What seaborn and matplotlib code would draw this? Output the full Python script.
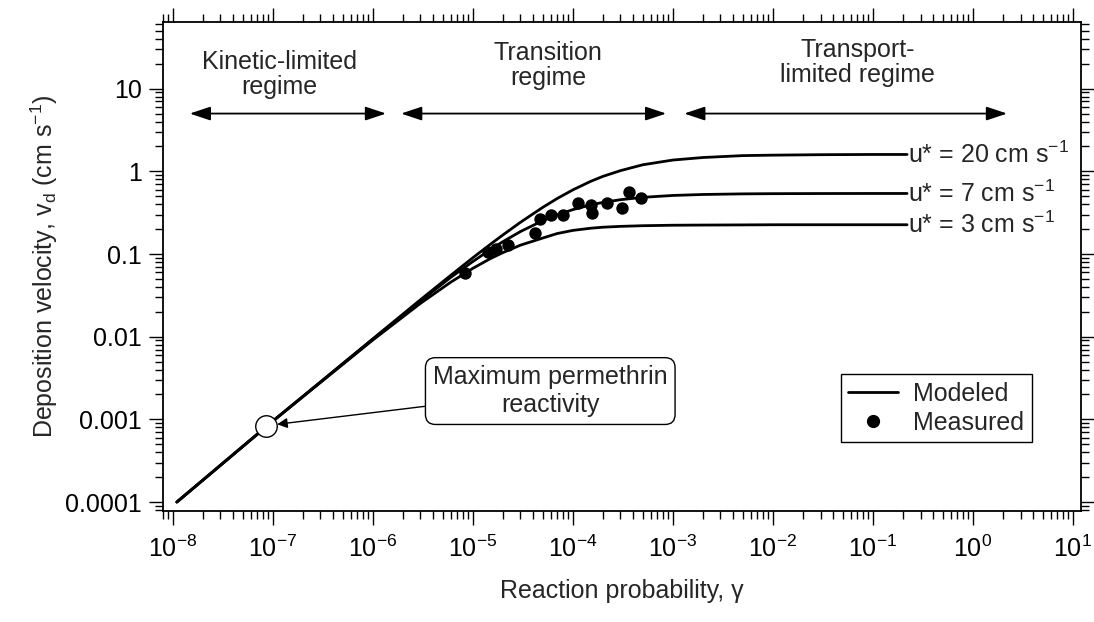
import matplotlib
matplotlib.use("Agg")
import matplotlib.pyplot as plt
import matplotlib.ticker as mticker
from matplotlib.lines import Line2D
import pandas as pd
import seaborn as sns

# modeled curves
gamma_model = [1.1e-8, 1e-7, 1e-6, 3e-6, 6e-6, 1e-5, 1.5e-5, 2e-5, 3e-5, 5e-5, 7e-5,
               1e-4, 1.5e-4, 2e-4, 3e-4, 5e-4, 1e-3, 2e-3, 5e-3, 1e-2, 3e-2, 0.1, 0.22]
vd_u20 = [1.0e-4, 9.5e-4, 9.4e-3, 0.028, 0.055, 0.090, 0.131, 0.170, 0.242, 0.366, 0.470,
          0.596, 0.754, 0.869, 1.02, 1.20, 1.37, 1.47, 1.55, 1.57, 1.59, 1.60, 1.60]
vd_u7 = [1.0e-4, 9.5e-4, 9.3e-3, 0.027, 0.052, 0.081, 0.113, 0.141, 0.187, 0.253, 0.298,
         0.344, 0.392, 0.421, 0.454, 0.485, 0.511, 0.525, 0.534, 0.537, 0.539, 0.540, 0.540]
vd_u3 = [1.0e-4, 9.5e-4, 9.1e-3, 0.0253, 0.0455, 0.067, 0.088, 0.104, 0.128, 0.156, 0.177,
         0.193, 0.205, 0.211, 0.216, 0.220, 0.223, 0.224, 0.225, 0.226, 0.226, 0.226, 0.226]
ustar_labels = ["u* = 20 cm s$^{-1}$", "u* = 7 cm s$^{-1}$", "u* = 3 cm s$^{-1}$"]

# measured points
gamma_meas = [8.4e-6, 1.42e-5, 1.71e-5, 2.25e-5, 4.2e-5, 4.66e-5, 6.07e-5, 8.0e-5,
              1.12e-4, 1.51e-4, 1.56e-4, 2.2e-4, 3.11e-4, 3.66e-4, 4.82e-4]
vd_meas = [0.059, 0.107, 0.116, 0.130, 0.180, 0.268, 0.299, 0.299,
           0.41, 0.39, 0.314, 0.41, 0.361, 0.561, 0.477]

# maximum permethrin reactivity
max_gamma = [8.6e-8]
max_vd = [8.4e-4]

regime_labels = ["Kinetic-limited\nregime", "Transition\nregime", "Transport-\nlimited regime"]
regime_spans = [(1.48e-8, 1.36e-6), (1.92e-6, 8.6e-4), (1.3e-3, 2.2)]
regime_text_pos = [(1.16e-7, 15.0), (5.7e-5, 19.0), (7.1e-2, 21.0)]

FS = 18

sns.set_style("ticks")
plt.rcParams["font.family"] = ["Liberation Sans", "DejaVu Sans"]
plt.rcParams["mathtext.fontset"] = "custom"
plt.rcParams["mathtext.rm"] = "Liberation Sans"
plt.rcParams["mathtext.it"] = "Liberation Sans:italic"
plt.rcParams["mathtext.bf"] = "Liberation Sans:bold"

model_df = pd.concat([
    pd.DataFrame({"gamma": gamma_model, "vd": vals, "ustar": lab})
    for vals, lab in zip([vd_u20, vd_u7, vd_u3], ustar_labels)
])

fig = plt.figure(figsize=(10.94, 6.22), dpi=100)
ax = fig.add_axes([0.149, 0.1785, 0.8389, 0.7861])
ax.set_xscale("log")
ax.set_yscale("log")

sns.lineplot(data=model_df, x="gamma", y="vd", units="ustar", estimator=None,
             color="black", lw=2, sort=False, ax=ax, legend=False)
sns.scatterplot(x=gamma_meas, y=vd_meas, color="black", s=80, linewidth=0, ax=ax,
                zorder=4, legend=False)
sns.scatterplot(x=max_gamma, y=max_vd, color="white", edgecolor="black", s=240,
                linewidth=1, ax=ax, zorder=5, legend=False)

ax.set_xlim(8e-9, 12)
ax.set_ylim(7.8e-5, 64)

# curve labels at line ends
for vals, lab in zip([vd_u20, vd_u7, vd_u3], ustar_labels):
    ax.text(gamma_model[-1] * 1.02, vals[-1], lab, fontsize=FS, ha="left", va="center")

# regime arrows and labels
for (x0, x1), (tx, ty), lab in zip(regime_spans, regime_text_pos, regime_labels):
    ax.annotate("", xy=(x1, 5), xytext=(x0, 5),
                arrowprops=dict(arrowstyle="<|-|>,head_length=0.9,head_width=0.3",
                                color="black", lw=1.3, mutation_scale=14,
                                shrinkA=0, shrinkB=0))
    ax.text(tx, ty, lab, fontsize=FS, ha="center", va="center",
            multialignment="center", linespacing=1.05)

ax.annotate("Maximum permethrin\nreactivity", xy=(max_gamma[0], max_vd[0]),
            xytext=(4.0e-6, 2.2e-3), textcoords="data", fontsize=FS,
            ha="left", va="center", multialignment="center",
            bbox=dict(boxstyle="round,pad=0.3,rounding_size=0.4", fc="white",
                      ec="black", lw=1),
            arrowprops=dict(arrowstyle="-|>", color="black", lw=1,
                            shrinkA=0, shrinkB=8, mutation_scale=15))

handles = [Line2D([], [], color="black", lw=2),
           Line2D([], [], color="black", marker="o", ls="none", ms=8.5)]
leg = ax.legend(handles, ["Modeled", "Measured"], loc="upper left",
                bbox_to_anchor=(0.7385, 0.28), fontsize=FS, frameon=True,
                fancybox=False, edgecolor="black", framealpha=1,
                handlelength=2, handletextpad=0.6, labelspacing=0.2,
                borderpad=0.3, borderaxespad=0)
leg.get_frame().set_linewidth(1)

ax.xaxis.set_major_locator(mticker.FixedLocator([10.0 ** k for k in range(-8, 2)]))
ax.xaxis.set_major_formatter(mticker.LogFormatterSciNotation())
ax.xaxis.set_minor_locator(mticker.LogLocator(base=10, subs=range(2, 10), numticks=20))
ax.xaxis.set_minor_formatter(mticker.NullFormatter())
ax.yaxis.set_major_locator(mticker.FixedLocator([1e-4, 1e-3, 1e-2, 1e-1, 1, 10]))
ax.yaxis.set_major_formatter(mticker.FuncFormatter(lambda v, _: f"{v:g}"))
ax.yaxis.set_minor_locator(mticker.LogLocator(base=10, subs=range(2, 10), numticks=20))
ax.yaxis.set_minor_formatter(mticker.NullFormatter())

ax.tick_params(which="both", direction="out", top=True, right=True,
               labeltop=False, labelright=False, colors="black", labelsize=FS)
ax.tick_params(which="major", length=10, width=1, pad=5)
ax.tick_params(axis="x", which="major", pad=8)
ax.tick_params(which="minor", length=5.5, width=1)
for sp in ax.spines.values():
    sp.set_linewidth(1.3)
    sp.set_color("black")

ax.set_xlabel("Reaction probability, γ", fontsize=FS, labelpad=12)
ax.set_ylabel("Deposition velocity, v$_\\mathregular{d}$ (cm s$^{-1}$)", fontsize=FS)

fig.savefig("out.png", dpi=100)
